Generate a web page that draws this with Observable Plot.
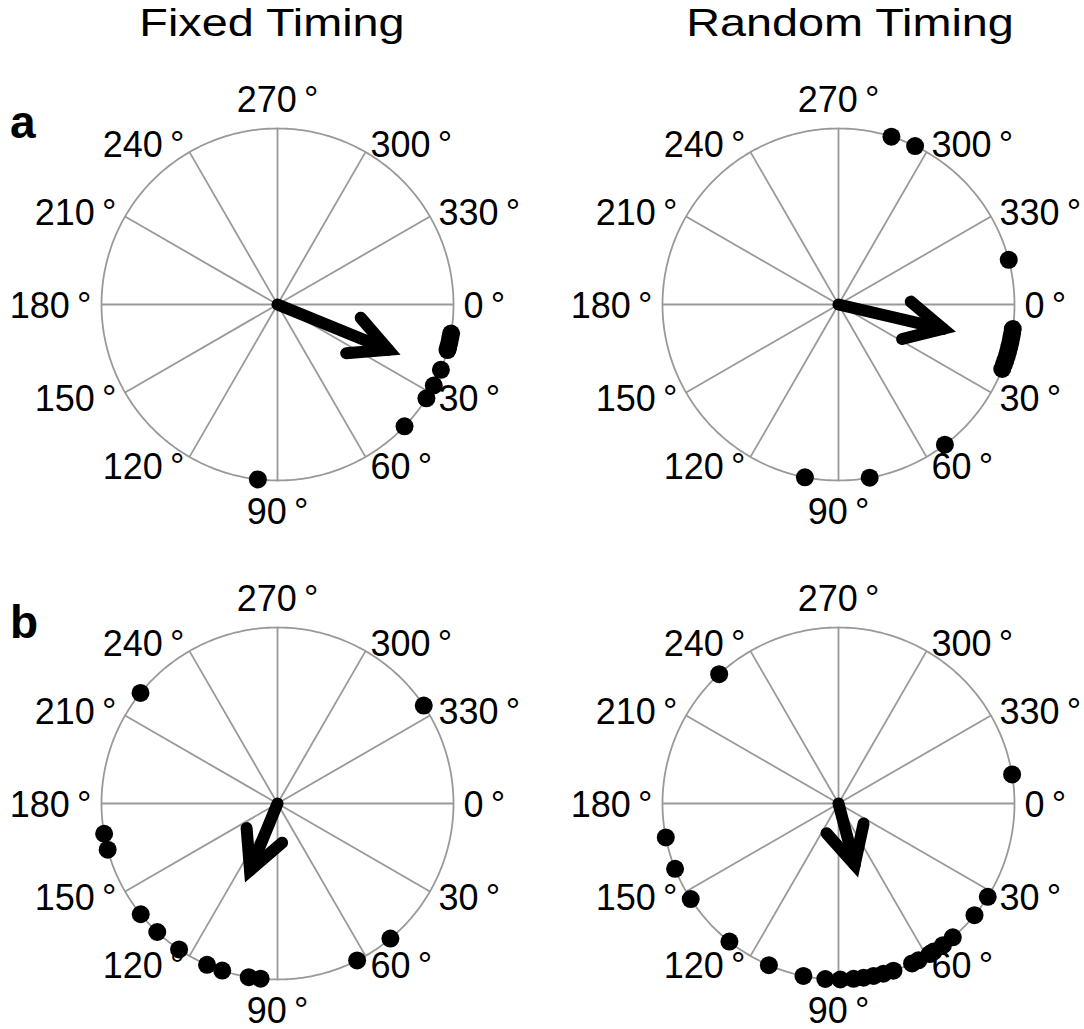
<!DOCTYPE html>
<html>
<head>
<meta charset="utf-8">
<script src="https://cdn.jsdelivr.net/npm/d3@7"></script>
<script src="https://cdn.jsdelivr.net/npm/@observablehq/plot@0.6"></script>
<style>
  html, body { margin: 0; padding: 0; background: #fff; }
  body { width: 1084px; height: 1029px; overflow: hidden; position: relative;
         font-family: "Liberation Sans", Arial, Helvetica, sans-serif; }
  .title { position: absolute; top: 3px; font-size: 39px; line-height: 39px; white-space: nowrap;
           color: #000; transform: translateX(-50%) scaleX(1.2); }
  .rowlab { position: absolute; left: 10px; font-size: 46px; line-height: 46px; font-weight: bold; color: #000; }
  .panel { position: absolute; }
  .panel svg { overflow: visible; }
</style>
</head>
<body>
<script>
// ---------------- data ----------------
const columnTitles = ["Fixed Timing", "Random Timing"];
const rowLabels = ["a", "b"];
const tickAngles = [0, 30, 60, 90, 120, 150, 180, 210, 240, 270, 300, 330];

// phase angles of individual points (degrees, 0° right, increasing clockwise)
const fixedA  = [9.5, 11, 12.5, 14, 15, 21.8, 27.4, 32.2, 43.8, 96.4];
const randomA = [287.5, 295.8, 345.3, 8, 9.5, 11, 12.5, 14, 15.5, 17, 18.5, 20, 21.5, 52.8, 79.8, 101];
const fixedB  = [218.9, 170.1, 164.8, 141, 133.1, 124, 113.6, 108.3, 99.4, 95.5, 326.2, 50.1, 63.1];
const randomB = [227.3, 350.5, 168.9, 158.2, 147.1, 128.3, 113.3, 101.5, 94.3, 89.4, 85.1, 81.8,
                 78.5, 75.2, 71.8, 65.3, 63, 58.8, 57.3, 53.6, 49.5, 39.4, 32];

// mean vectors (angle in degrees, resultant length)
const meanAngles  = [22.2, 13.1, 112.4, 75.2];
const meanLengths = [0.68, 0.61, 0.41, 0.36];

// ---------------- layout ----------------
const R = 176;             // pixel radius of unit circle
const panels = [
  {dots: fixedA,  k: 0, cx: 277, cy: 304, left: 0,   top: 60,  width: 557, height: 495},
  {dots: randomA, k: 1, cx: 838, cy: 304, left: 557, top: 60,  width: 527, height: 495},
  {dots: fixedB,  k: 2, cx: 277, cy: 803, left: 0,   top: 555, width: 557, height: 474},
  {dots: randomB, k: 3, cx: 838, cy: 803, left: 557, top: 555, width: 527, height: 474}
];

const rad = d => d * Math.PI / 180;
const cosd = d => Math.cos(rad(d));
const sind = d => Math.sin(rad(d));
const FONT = "Liberation Sans, Arial, Helvetica, sans-serif";

function labelText(a) { return a + "\u2009\u00B0"; }
function anchorOf(a) {
  const c = cosd(a);
  return c > 0.1 ? "start" : c < -0.1 ? "end" : "middle";
}
function labelRadius(a) {
  return (a === 90 || a === 270) ? (R + 30) / R : (R + 10) / R;
}

function makePanel(p) {
  const xDomain = [(p.left - p.cx) / R, (p.left + p.width - p.cx) / R];
  const yDomain = [(p.top + p.height - p.cy) / R, (p.top - p.cy) / R];
  const ang = meanAngles[p.k], len = meanLengths[p.k];
  const tip = [len * cosd(ang), len * sind(ang)];
  const wing = 0.24, half = 27;
  const head = [
    {x: tip[0] + wing * cosd(ang + 180 - half), y: tip[1] + wing * sind(ang + 180 - half)},
    {x: tip[0], y: tip[1]},
    {x: tip[0] + wing * cosd(ang + 180 + half), y: tip[1] + wing * sind(ang + 180 + half)}
  ];
  const circle = d3.range(0, 361, 1);
  const textMarks = ["start", "middle", "end"].map(anchor =>
    Plot.text(tickAngles.filter(a => anchorOf(a) === anchor), {
      x: a => labelRadius(a) * cosd(a),
      y: a => labelRadius(a) * sind(a),
      dy: 2,
      text: labelText,
      textAnchor: anchor,
      lineAnchor: "middle",
      fontSize: 36,
      fontFamily: FONT,
      fill: "#000"
    })
  );
  return Plot.plot({
    width: p.width,
    height: p.height,
    margin: 0,
    x: {domain: xDomain, axis: null},
    y: {domain: yDomain, axis: null},
    style: {background: "transparent", overflow: "visible"},
    marks: [
      Plot.link(tickAngles, {x1: 0, y1: 0, x2: a => cosd(a), y2: a => sind(a), stroke: "#999", strokeWidth: 1.8}),
      Plot.line(circle, {x: a => cosd(a), y: a => sind(a), stroke: "#999", strokeWidth: 1.8}),
      Plot.dot([0], {x: 0, y: 0, r: 5, fill: "#aaa", stroke: "#222", strokeWidth: 1.3, strokeDasharray: "1.5 1.5"}),
      Plot.dot(p.dots, {x: a => cosd(a), y: a => sind(a), r: 9, fill: "#000", stroke: "none"}),
      Plot.link([0], {x1: 0, y1: 0, x2: tip[0], y2: tip[1], stroke: "#000", strokeWidth: 12, strokeLinecap: "round"}),
      Plot.line(head, {x: "x", y: "y", stroke: "#000", strokeWidth: 12, strokeLinejoin: "miter", strokeLinecap: "round", strokeMiterlimit: 10}),
      ...textMarks
    ]
  });
}

panels.forEach(p => {
  const div = document.createElement("div");
  div.className = "panel";
  div.style.left = p.left + "px";
  div.style.top = p.top + "px";
  div.appendChild(makePanel(p));
  document.body.appendChild(div);
});

// column titles
[272, 850].forEach((x, i) => {
  const d = document.createElement("div");
  d.className = "title";
  d.style.left = x + "px";
  d.textContent = columnTitles[i];
  document.body.appendChild(d);
});
// row labels
[99, 599].forEach((y, i) => {
  const d = document.createElement("div");
  d.className = "rowlab";
  d.style.top = y + "px";
  d.textContent = rowLabels[i];
  document.body.appendChild(d);
});
</script>
</body>
</html>
